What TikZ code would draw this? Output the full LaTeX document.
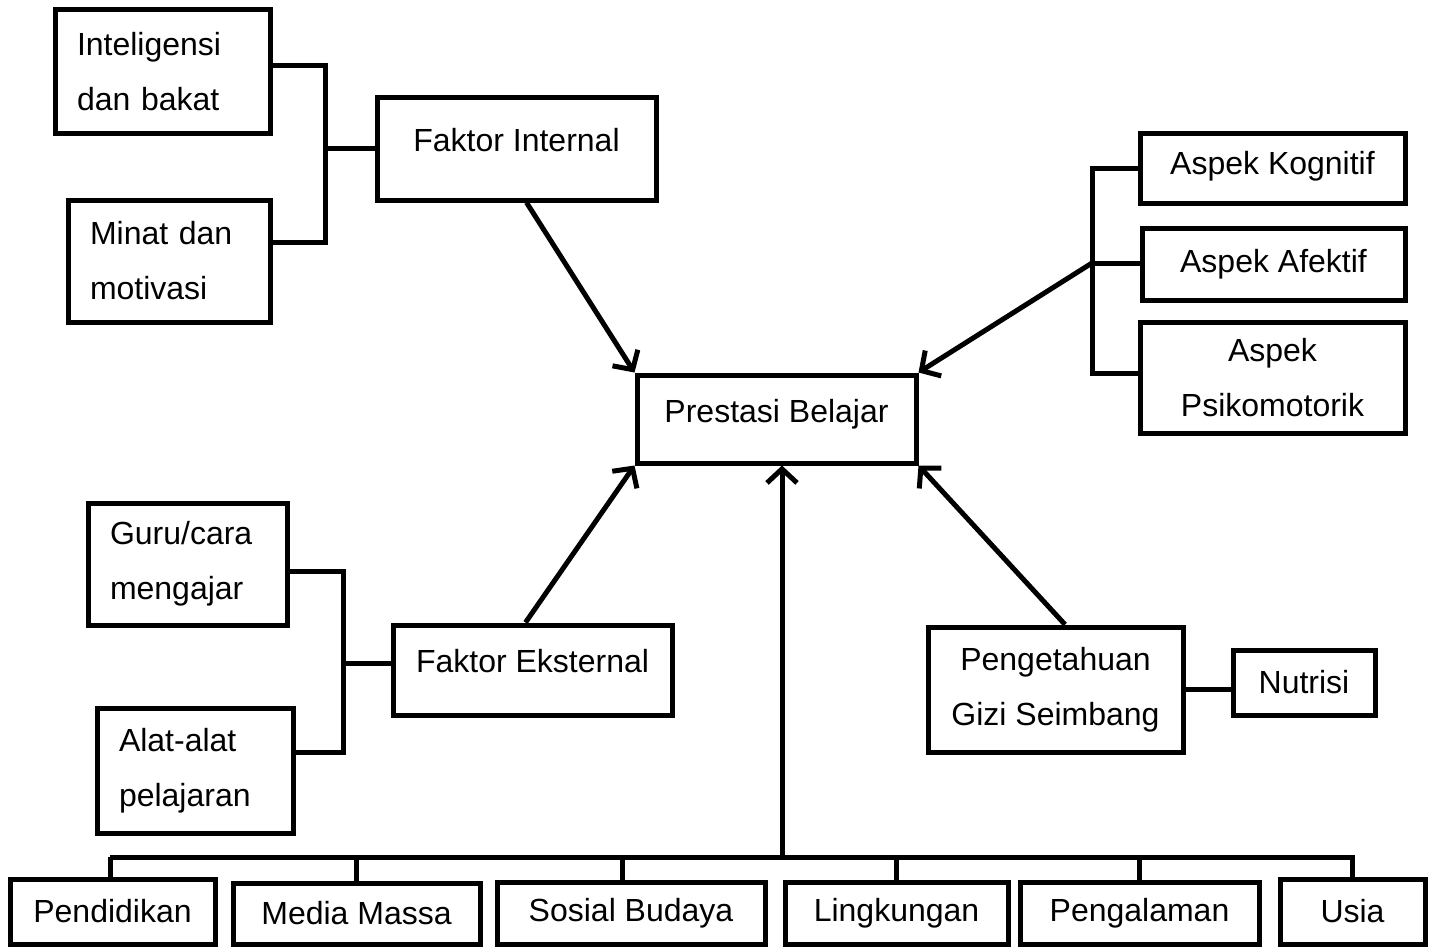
\documentclass[tikz,border=0pt]{standalone}
\usepackage{fontspec}
\setmainfont{Liberation Sans}
\usetikzlibrary{arrows.meta}
\begin{document}
\begin{tikzpicture}[x=1pt,y=-1pt,
 box/.style={draw, line width=5pt, inner sep=0pt, font=\fontsize{32}{55}\selectfont, align=center},
 lbox/.style={box, align=left, inner xsep=22pt},
 conn/.style={line width=5pt},
 arr/.style={line width=5pt, -{Straight Barb[length=14pt,width=30pt]}}]
\useasboundingbox (0,0) rectangle (1439,947);
\fill[white] (0,0) rectangle (1439,947);
% boxes
\node[lbox, text width=171pt, minimum height=123pt] (intel) at (162.5,71.5) {Inteligensi\\dan bakat};
\node[lbox, text width=158pt, minimum height=122pt] (minat) at (169,261) {Minat dan\\motivasi};
\node[box, minimum width=279pt, minimum height=102pt, text depth=18pt] (fint) at (516.5,149) {Faktor Internal};
\node[box, minimum width=279pt, minimum height=88pt, text depth=17pt] (prest) at (776.5,419) {Prestasi Belajar};
\node[box, minimum width=265pt, minimum height=70pt, text depth=10.7pt] (kog) at (1272.5,168) {Aspek Kognitif};
\node[box, minimum width=263pt, minimum height=72pt] (afek) at (1273.5,264) {Aspek Afektif};
\node[box, minimum width=265pt, minimum height=111pt] (psiko) at (1272.5,377.5) {Aspek\\Psikomotorik};
\node[lbox, text width=155pt, minimum height=122pt] (guru) at (187.5,564) {Guru/cara\\mengajar};
\node[lbox, text width=152pt, minimum height=125pt] (alat) at (195,770.5) {Alat-alat\\pelajaran};
\node[box, minimum width=279pt, minimum height=90pt, text depth=18pt] (fext) at (532.5,670) {Faktor Eksternal};
\node[box, minimum width=255pt, minimum height=125pt] (gizi) at (1055.5,689.5) {Pengetahuan\\Gizi Seimbang};
\node[box, minimum width=142pt, minimum height=65pt] (nutr) at (1304,682.5) {Nutrisi};
\node[box, minimum width=205pt, minimum height=65pt] (pend) at (112.5,911.5) {Pendidikan};
\node[box, minimum width=247pt, minimum height=61pt] (media) at (356.5,913.5) {Media Massa};
\node[box, minimum width=268pt, minimum height=62pt] (sosial) at (631,913) {Sosial Budaya};
\node[box, minimum width=223pt, minimum height=62pt] (ling) at (896.5,913) {Lingkungan};
\node[box, minimum width=239pt, minimum height=62pt] (peng) at (1139.5,913) {Pengalaman};
\node[box, minimum width=145pt, minimum height=65pt] (usia) at (1352.5,911.5) {Usia};
% junction coordinates
\coordinate (bi) at (325,148);
\coordinate (ba) at (1092,263);
\coordinate (bg) at (343,663);
\coordinate (bus) at (782,857);
\coordinate (busl) at (110,857);
\coordinate (busr) at (1355,857);
% brackets
\draw[conn] ([yshift=5.5pt]intel.east) -| (bi) |- ([yshift=19pt]minat.east);
\draw[conn] (bi) -- (bi -| fint.west);
\draw[conn] (kog.west) -| (ba) |- ([yshift=4.5pt]psiko.west);
\draw[conn] (ba) -- (ba -| afek.west);
\draw[conn] ([yshift=-7pt]guru.east) -| (bg) |- ([yshift=18.5pt]alat.east);
\draw[conn] (bg) -- (bg -| fext.west);
\draw[conn] (gizi.east) -- (gizi.east -| nutr.west);
% bus
\draw[conn] (busl) -- (busr);
\draw[conn] (busl) -- (busl |- pend.north);
\draw[conn] (media.north |- bus) -- (media.north);
\draw[conn] ([xshift=-9pt]sosial.north |- bus) -- ([xshift=-9pt]sosial.north);
\draw[conn] (ling.north |- bus) -- (ling.north);
\draw[conn] (peng.north |- bus) -- (peng.north);
\draw[conn] (usia.north |- bus) -- (usia.north);
% arrows
\draw[arr] ([xshift=10pt]fint.south) -- (prest.north west);
\draw[arr] (ba) -- (prest.north east);
\draw[arr] ([xshift=-7pt]fext.north) -- (prest.south west);
\draw[arr] ([xshift=9.5pt]gizi.north) -- (prest.south east);
\draw[arr] (bus) -- (bus |- prest.south);
\end{tikzpicture}
\end{document}
